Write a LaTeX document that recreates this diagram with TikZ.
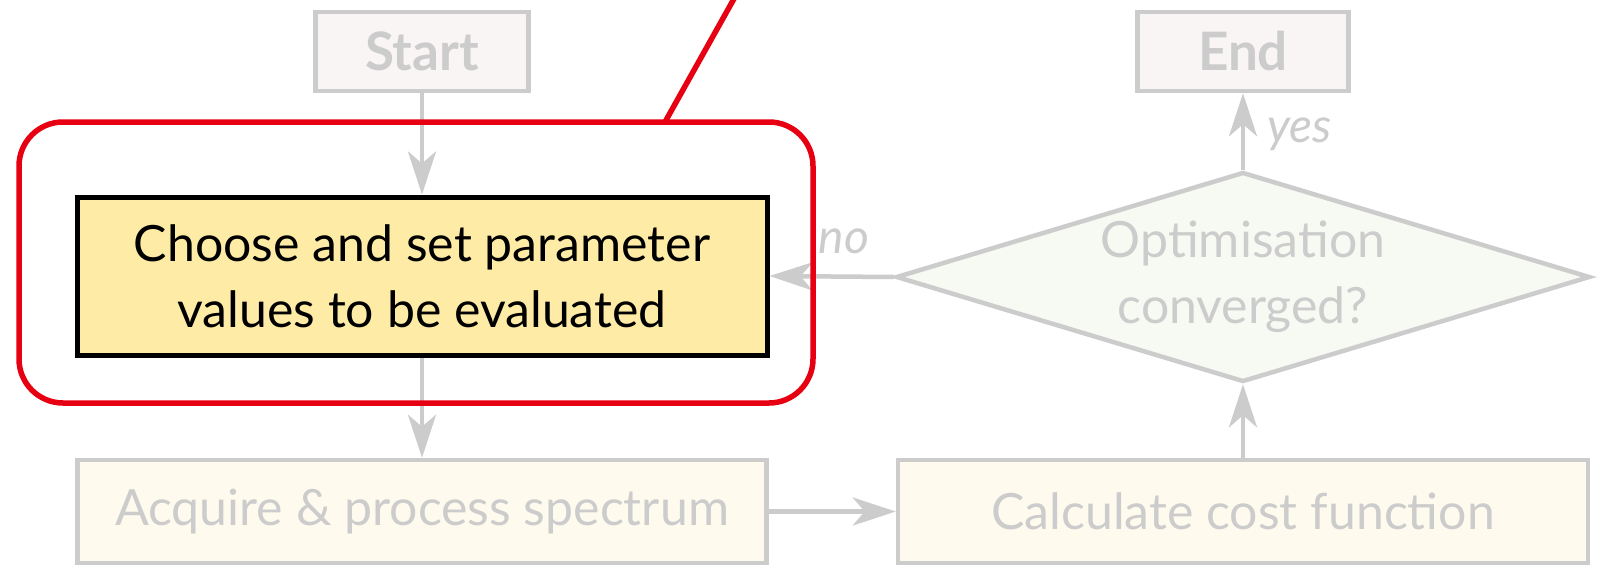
\documentclass[tikz,border=0pt]{standalone}
\usepackage{fontspec}
\setmainfont{Lato}
\usetikzlibrary{arrows.meta,shapes.geometric}
\definecolor{lg}{HTML}{CCCCCC}
\definecolor{termfill}{HTML}{F9F5F4}
\definecolor{decfill}{HTML}{F7F9F3}
\definecolor{procfill}{HTML}{FFFAEE}
\definecolor{choosefill}{HTML}{FEEBA6}
\definecolor{hlred}{HTML}{E60012}
\tikzset{
  gbox/.style={draw=lg, line width=4.5pt, inner sep=0pt, text=lg, align=center},
  termbox/.style={gbox, fill=termfill, font=\bfseries\fontsize{53}{60}\selectfont},
  procbox/.style={gbox, fill=procfill, font=\fontsize{50}{66}\selectfont},
  decbox/.style={gbox, fill=decfill, shape=diamond, aspect=3.3, font=\fontsize{50}{66}\selectfont},
  choosebox/.style={draw=black, line width=5pt, fill=choosefill, inner sep=0pt, align=center, font=\fontsize{50}{66}\selectfont},
  hlbox/.style={draw=hlred, line width=5.5pt, rounded corners=44pt, inner sep=0pt},
  garrow/.style={draw=lg, line width=4.5pt, -{Stealth[length=43pt,width=28pt,inset=12pt]}},
  glabel/.style={text=lg, inner sep=0pt, font=\itshape\fontsize{48}{54}\selectfont},
  redline/.style={draw=hlred, line width=5.5pt}
}
\begin{document}
\begin{tikzpicture}[x=1pt,y=-1pt]
\useasboundingbox (0,0) rectangle (1599,565);
\clip (0,0) rectangle (1599,565);
\fill[white] (0,0) rectangle (1599,565);
% nodes
\node[termbox, minimum width=213pt, minimum height=79pt] (start) at (422,51.5) {Start};
\node[termbox, minimum width=211pt, minimum height=79pt] (end) at (1243,51.5) {End};
\node[choosebox, minimum width=690pt, minimum height=158pt] (choose) at (422,276) {Choose and set parameter\\values to be evaluated};
\node[procbox, minimum width=689pt, minimum height=103pt] (acquire) at (422,511.5) {Acquire \& process spectrum};
\node[procbox, minimum width=690pt, minimum height=103pt] (calc) at (1243,511.5) {Calculate cost function};
\node[decbox, minimum width=694pt, minimum height=210pt] (dec) at (1243,277) {Optimisation\\converged?};
% connectors
\draw[garrow] (start.south) -- (choose.north);
\draw[garrow] (choose.south) -- (acquire.north);
\draw[garrow] (acquire.east) -- (calc.west);
\draw[garrow] (calc.north) -- (dec.south);
\draw[garrow] (dec.north) -- node[glabel, pos=0.36, anchor=base west, xshift=22pt] {yes} (end.south);
\draw[garrow] (dec.west) -- node[glabel, pos=0.40, anchor=base, yshift=23pt] {no} (choose.east);
% highlight
\node[hlbox, minimum width=794pt, minimum height=281pt] (hl) at (416,262.5) {};
\coordinate (cstart) at (665,122);
\coordinate (cend) at (740,-12);
\draw[redline] (cstart) -- (cend);
\end{tikzpicture}
\end{document}
